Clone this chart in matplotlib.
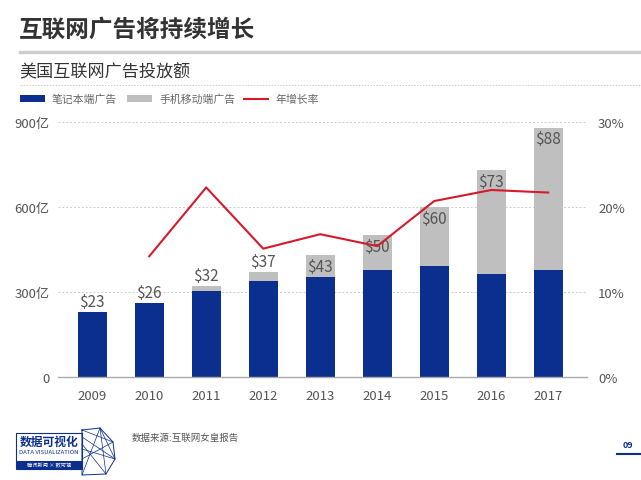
import numpy as np
import matplotlib.pyplot as plt
from matplotlib.patches import Rectangle
from matplotlib.lines import Line2D

plt.rcParams['font.family'] = ['Noto Sans CJK SC', 'DejaVu Sans']

# data (亿美元 / %)
years = ['2009', '2010', '2011', '2012', '2013', '2014', '2015', '2016', '2017']
desktop = [230, 260, 304, 339, 352, 376, 391, 365, 378]
mobile = [0, 0, 16, 31, 78, 124, 209, 365, 502]
total_labels = ['$23', '$26', '$32', '$37', '$43', '$50', '$60', '$73', '$88']
growth = [np.nan, 14.2, 22.3, 15.1, 16.8, 15.4, 20.7, 22.0, 21.7]
left_ticks = [0, 300, 600, 900]
left_tick_labels = ['0', '300亿', '600亿', '900亿']
right_ticks = [0, 10, 20, 30]
right_tick_labels = ['0%', '10%', '20%', '30%']
legend_labels = ['笔记本端广告', '手机移动端广告', '年增长率']

BLUE = '#0b2f8f'
GRAY = '#bfbfbf'
RED = '#d41a2b'
TXT = '#555555'

W, H = 641, 481


def fx(x):
    return x / W


def fy(y):
    return 1 - y / H


fig = plt.figure(figsize=(W / 100, H / 100), dpi=100)

# header
fig.text(fx(19), fy(30), '互联网广告将持续增长', fontsize=17, fontweight='bold',
         color='#333333', va='center', ha='left')
fig.add_artist(Line2D([fx(20), 1], [fy(52.5), fy(52.5)], color='#cccccc', lw=2.4))
fig.text(fx(19), fy(72), '美国互联网广告投放额', fontsize=12.3, fontweight='medium',
         color='#333333', va='center', ha='left')
fig.add_artist(Line2D([fx(20), 1], [fy(86), fy(86)], color='#cccccc', lw=0.7,
                      linestyle=(0, (1.5, 1.5))))

# legend
fig.add_artist(Rectangle((fx(20), fy(103)), 25 / W, 7 / H, color=BLUE, lw=0))
fig.text(fx(52), fy(99.5), legend_labels[0], fontsize=7.8, color='#666666', va='center')
fig.add_artist(Rectangle((fx(127), fy(103)), 25 / W, 7 / H, color=GRAY, lw=0))
fig.text(fx(160), fy(99.5), legend_labels[1], fontsize=7.8, color='#666666', va='center')
fig.add_artist(Line2D([fx(244), fx(268)], [fy(99.5), fy(99.5)], color=RED, lw=1.5))
fig.text(fx(275), fy(99.5), legend_labels[2], fontsize=7.8, color='#666666', va='center')

# chart
ax = fig.add_axes([fx(58), 103 / H, 529 / W, 272 / H])
x = np.arange(len(years))
ax.bar(x, desktop, width=0.51, color=BLUE, zorder=2)
ax.bar(x, mobile, width=0.51, bottom=desktop, color=GRAY, zorder=2)

totals = np.array(desktop) + np.array(mobile)
for i, (t, lab) in enumerate(zip(totals, total_labels)):
    if i < 4:
        ax.annotate(lab, (x[i], t), xytext=(0, 1.5), textcoords='offset points',
                    ha='center', va='bottom', fontsize=11, color=TXT, zorder=3)
    else:
        ax.annotate(lab, (x[i], t), xytext=(0, -2), textcoords='offset points',
                    ha='center', va='top', fontsize=11, color=TXT, zorder=3)

ax.set_xlim(-0.6, 8.68)
ax.set_ylim(0, 960)
ax.set_yticks(left_ticks, left_tick_labels)
ax.set_xticks(x, years)
ax.yaxis.grid(True, linestyle=(0, (2, 2)), color='#cccccc', lw=0.7)
ax.set_axisbelow(True)
for s in ['left', 'right', 'top']:
    ax.spines[s].set_visible(False)
ax.spines['bottom'].set_color('#aaaaaa')
ax.spines['bottom'].set_linewidth(1)
ax.tick_params(axis='y', length=0, labelsize=9.5, labelcolor=TXT, pad=6)
ax.tick_params(axis='x', length=0, labelsize=9.5, labelcolor=TXT, pad=9)

ax2 = ax.twinx()
ax2.plot(x, growth, color=RED, lw=1.5, zorder=4)
ax2.set_ylim(0, 32)
ax2.set_yticks(right_ticks, right_tick_labels)
for s in ['left', 'right', 'top', 'bottom']:
    ax2.spines[s].set_visible(False)
ax2.tick_params(axis='y', length=0, labelsize=9.5, labelcolor=TXT, pad=8)

# footer: logo
fig.add_artist(Rectangle((fx(16), fy(470)), 66 / W, 36 / H, fill=False,
                         edgecolor=BLUE, lw=0.8))
fig.add_artist(Rectangle((fx(16), fy(470)), 66 / W, 8 / H, color=BLUE, lw=0))
fig.text(fx(49), fy(442), '数据可视化', fontsize=8.5, fontweight='bold', color=BLUE,
         ha='center', va='center')
fig.text(fx(49), fy(453), 'DATA VISUALIZATION', fontsize=4.3, color=BLUE,
         ha='center', va='center')
fig.text(fx(49), fy(466), '腾讯新闻 × 数可视', fontsize=3.8, color='white',
         ha='center', va='center')
poly = [(82, 431), (100, 429), (113, 443), (115, 460), (106, 475), (82, 476)]
px = [fx(p[0]) for p in poly] + [fx(poly[0][0])]
py = [fy(p[1]) for p in poly] + [fy(poly[0][1])]
fig.add_artist(Line2D(px, py, color=BLUE, lw=0.7))
inner = [((82, 431), (113, 443)), ((100, 429), (115, 460)), ((82, 445), (106, 475)),
         ((82, 460), (113, 443)), ((100, 429), (82, 476)), ((115, 460), (82, 450)),
         ((106, 475), (100, 429)), ((82, 438), (115, 460))]
for a, b in inner:
    fig.add_artist(Line2D([fx(a[0]), fx(b[0])], [fy(a[1]), fy(b[1])], color=BLUE, lw=0.5))

fig.text(fx(132), fy(438), '数据来源:互联网女皇报告', fontsize=6.8, color=TXT,
         ha='left', va='center')

# page number
fig.text(fx(623), fy(446), '09', fontsize=6.5, fontweight='bold', color=BLUE,
         ha='left', va='center')
fig.add_artist(Line2D([fx(617), 1], [fy(455), fy(455)], color=BLUE, lw=1.5))

fig.savefig('out.png', dpi=100)
